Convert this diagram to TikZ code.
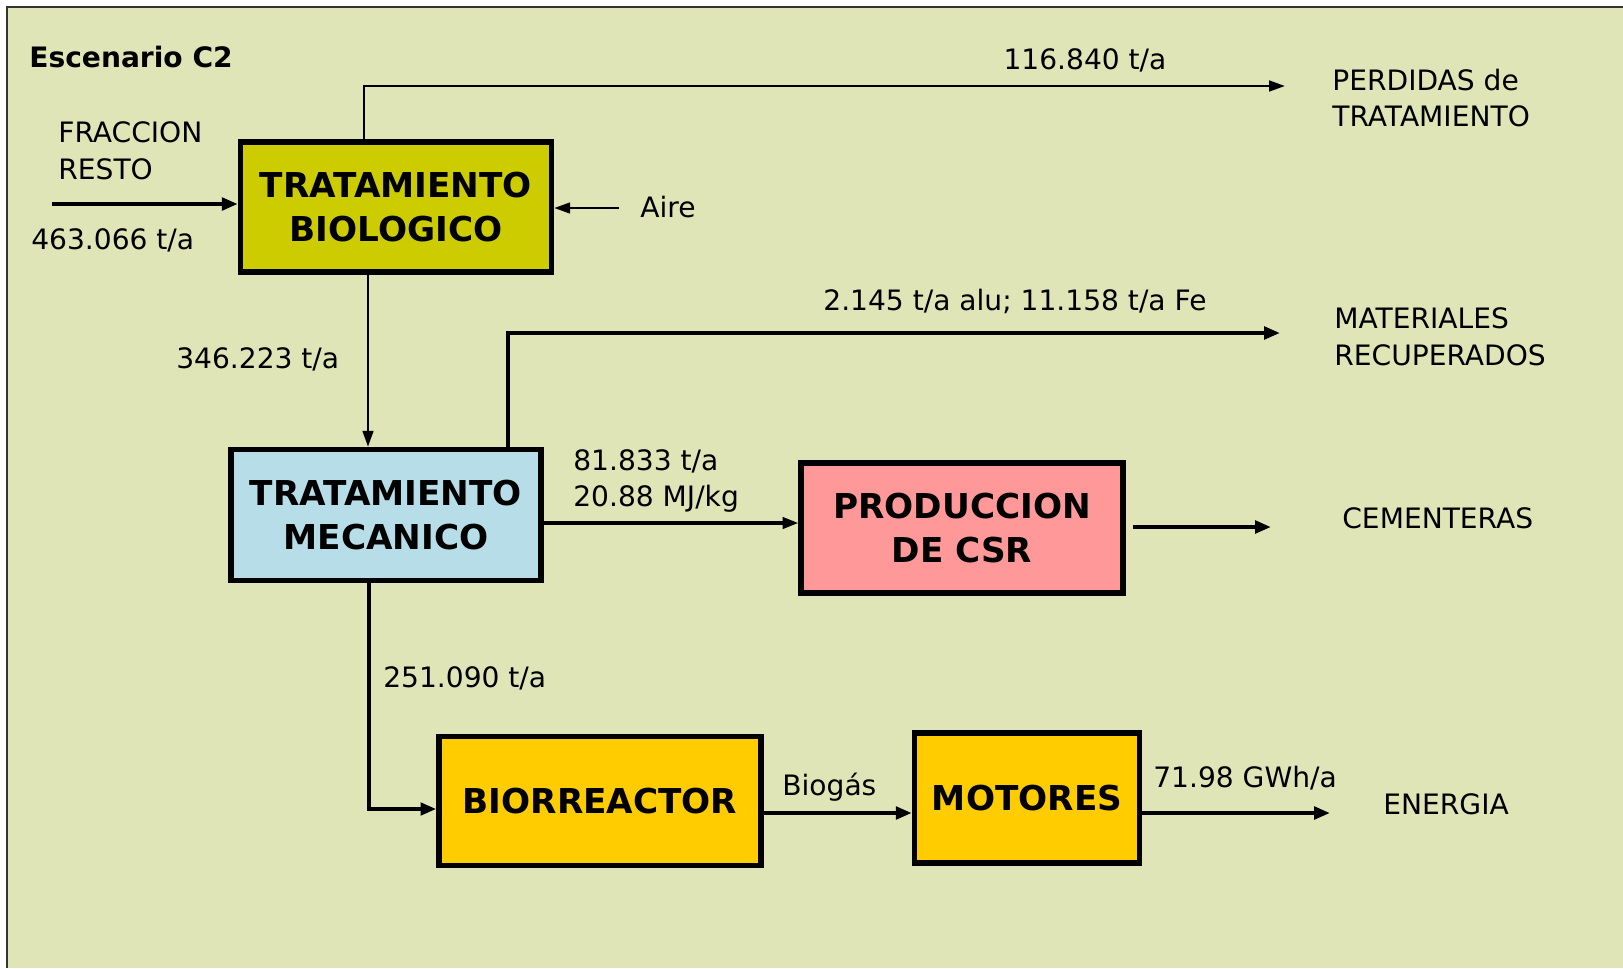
\documentclass[tikz,border=0pt]{standalone}
\usepackage{fontspec}
\setmainfont{DejaVu Sans}
\usetikzlibrary{arrows.meta, positioning, calc}
\definecolor{figbg}{RGB}{223,229,183}
\definecolor{figolive}{RGB}{204,204,0}
\definecolor{figblue}{RGB}{183,222,232}
\definecolor{figpink}{RGB}{255,153,153}
\definecolor{figgold}{RGB}{255,204,0}
\tikzset{
  bxP/.style n args={3}{draw=black, fill=#3, line width=3.1pt,
              minimum width=#1, minimum height=#2, align=center, inner sep=0pt,
              font=\fontsize{19.5}{25}\selectfont\bfseries},
  lbl/.style={font=\fontsize{16}{21}\selectfont, inner sep=0pt, align=left},
  arrT/.style={-{Triangle[length=9pt, width=6pt]}, line width=1.5pt},
  arrM/.style={-{Triangle[length=9pt, width=6.5pt]}, line width=1.8pt},
  arrK/.style={-{Triangle[length=9pt, width=7pt]}, line width=2.7pt},
}

\begin{document}
\begin{tikzpicture}[x=0.02cm, y=-0.02cm]
  \useasboundingbox (0,0) rectangle (1623,968);
  % background panel
  \fill[figbg] (7,7) rectangle (1623,968);
  \draw[black!80, line width=0.8pt] (7,968) -- (7,7) -- (1623,7);

  % process boxes
  \node[bxP={6.22cm}{2.60cm}{figolive}] (tb) at (396,207) {TRATAMIENTO\\BIOLOGICO};
  \node[bxP={6.20cm}{2.62cm}{figblue}] (tm) at (386,515) {TRATAMIENTO\\MECANICO};
  \node[bxP={6.44cm}{2.60cm}{figpink}] (csr) at (962,528) {PRODUCCION\\DE CSR};
  \node[bxP={6.44cm}{2.58cm}{figgold}] (bio) at (600,801) {BIORREACTOR};
  \node[bxP={4.50cm}{2.60cm}{figgold}] (mot) at (1027,798) {MOTORES};

  % free ends of the flows
  \coordinate (fin) at (52,204);
  \coordinate (faire) at (619,208);
  \coordinate (fperd) at (1285,86);
  \coordinate (fmat) at (1280,333);
  \coordinate (fcem) at (1271,527);
  \coordinate (fener) at (1330,813);

  % flows
  \draw[arrK] (fin) -- (fin -| tb.west);
  \draw[arrT] (faire) -- (faire -| tb.east);
  \draw[arrT] ([xshift=-0.64cm]tb.north) |- (fperd);
  \draw[arrT] ([xshift=-0.56cm]tb.south) -- ([xshift=-0.56cm]tb.south |- tm.north);
  \draw[arrK] ([xshift=2.44cm]tm.north) |- (fmat);
  \draw[arrM] ([yshift=-0.16cm]tm.east) -- ([yshift=-0.16cm]tm.east -| csr.west);
  \draw[arrK] ([xshift=4pt]csr.east |- fcem) -- (fcem);
  \draw[arrK] ([xshift=-0.34cm]tm.south) |- ([yshift=-0.16cm]bio.west);
  \draw[arrK] ([yshift=-0.24cm]bio.east) -- ([yshift=-0.24cm]bio.east -| mot.west);
  \draw[arrK] (fener -| mot.east) -- (fener);

  % labels
  \node[lbl, anchor=west, font=\fontsize{16}{20}\selectfont\bfseries] (tit) at (29,57) {Escenario C2};
  \node[lbl, anchor=west] (lfr) at (58,151) {FRACCION\\RESTO};
  \node[lbl, anchor=west] (lin) at (31,240) {463.066 t/a};
  \node[lbl, anchor=west] (lair) at (640,207) {Aire};
  \node[lbl] (lper) at (1085,60) {116.840 t/a};
  \node[lbl, anchor=west] (dper) at (1332,98) {PERDIDAS de\\TRATAMIENTO};
  \node[lbl, anchor=west] (ltm) at (176,359) {346.223 t/a};
  \node[lbl] (lmat) at (1015,301) {2.145 t/a alu; 11.158 t/a Fe};
  \node[lbl, anchor=west] (dmat) at (1334,337) {MATERIALES\\RECUPERADOS};
  \node[lbl, anchor=west] (lcsr) at (573,481) {81.833 t/a\\20.88 MJ/kg};
  \node[lbl, anchor=west] (dcem) at (1342,518) {CEMENTERAS};
  \node[lbl, anchor=west] (lbio) at (383,678) {251.090 t/a};
  \node[lbl, anchor=west] (lgas) at (782,787) {Biogás};
  \node[lbl, anchor=west] (lene) at (1153,778) {71.98 GWh/a};
  \node[lbl, anchor=west] (dene) at (1383,804) {ENERGIA};
\end{tikzpicture}
\end{document}
